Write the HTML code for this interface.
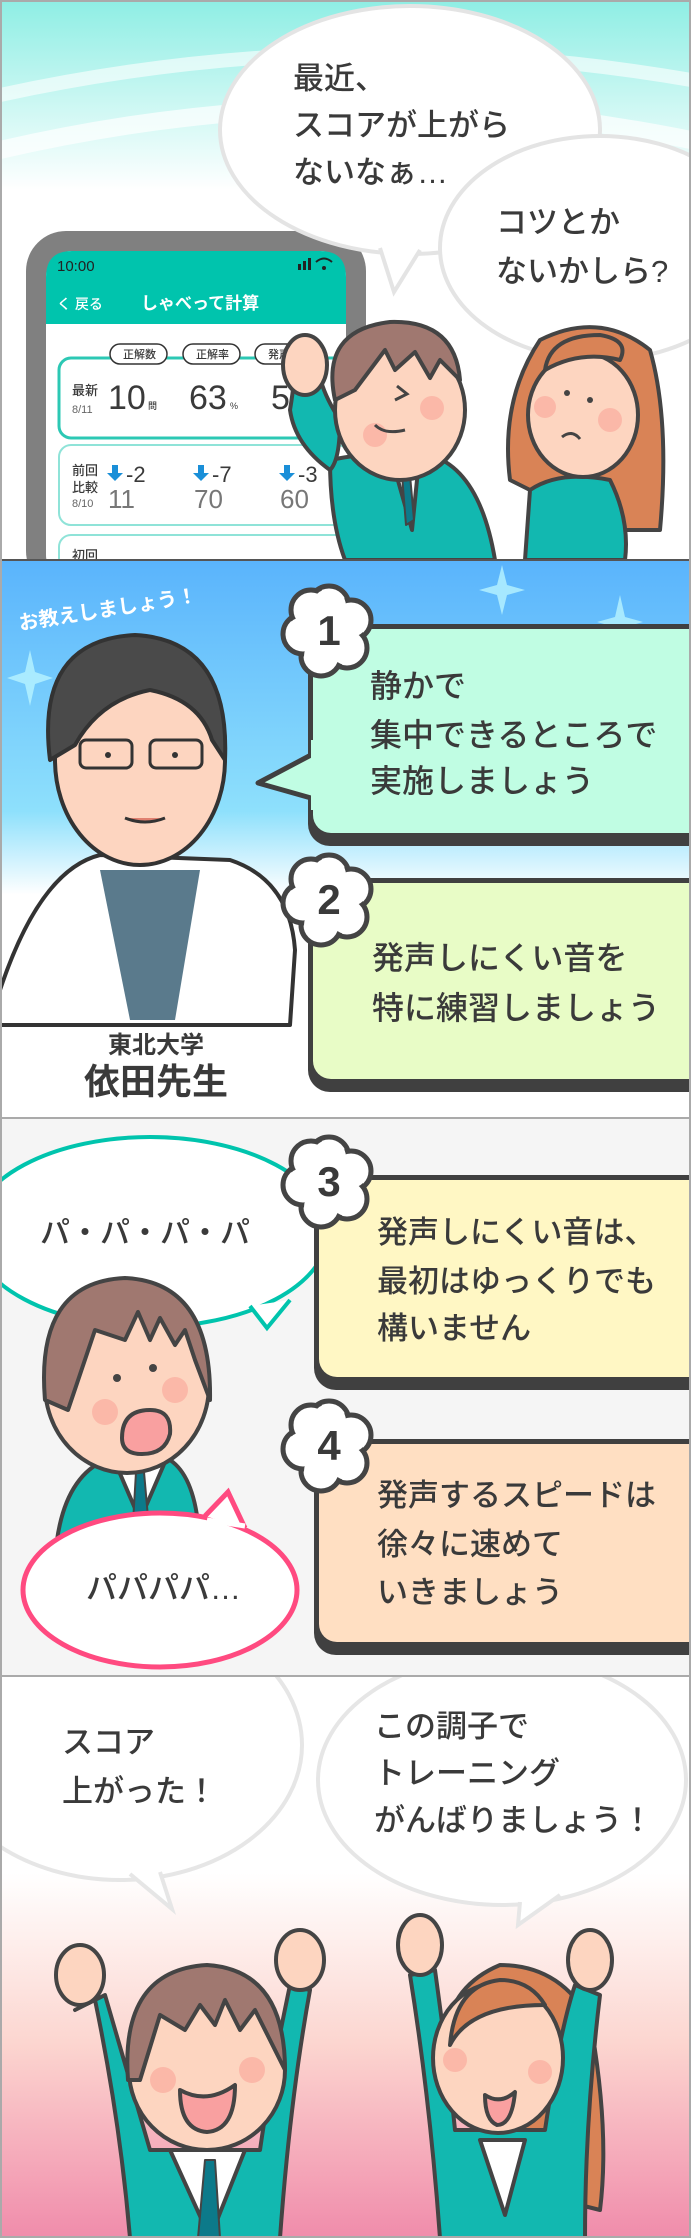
<!DOCTYPE html>
<html><head><meta charset="utf-8"><style>
html,body{margin:0;padding:0;background:#fff}
svg{display:block}
text{font-family:"Liberation Sans","Noto Sans CJK JP",sans-serif;fill:#3a3a3a;font-weight:500}
</style></head><body>
<svg width="691" height="2238" viewBox="0 0 691 2238" xmlns="http://www.w3.org/2000/svg">
<defs>
<linearGradient id="g1" x1="0" y1="0" x2="0" y2="1"><stop offset="0" stop-color="#8eeee4"/><stop offset="1" stop-color="#ffffff"/></linearGradient>
<linearGradient id="g2" x1="0" y1="0" x2="0" y2="1"><stop offset="0" stop-color="#5ab4fc"/><stop offset="0.45" stop-color="#8ee0fc"/><stop offset="0.6" stop-color="#ffffff"/><stop offset="1" stop-color="#ffffff"/></linearGradient>
<linearGradient id="g4" x1="0" y1="0" x2="0" y2="1"><stop offset="0" stop-color="#ffffff"/><stop offset="0.35" stop-color="#ffffff"/><stop offset="0.65" stop-color="#fcd6d0"/><stop offset="1" stop-color="#f08cab"/></linearGradient>
<clipPath id="c1"><rect x="0" y="0" width="691" height="560"/></clipPath>
<clipPath id="c3"><rect x="0" y="1119" width="691" height="556"/></clipPath>
<clipPath id="c4"><rect x="0" y="1677" width="691" height="561"/></clipPath>
<g id="badge">
<g fill="#fff" stroke="#444" stroke-width="5">
<circle cx="0" cy="-24" r="20"/><circle cx="22" cy="-10" r="20"/><circle cx="18" cy="18" r="20"/><circle cx="-8" cy="26" r="20"/><circle cx="-26" cy="4" r="20"/><circle cx="-18" cy="-20" r="20"/>
</g>
<g fill="#fff"><circle cx="0" cy="-24" r="17"/><circle cx="22" cy="-10" r="17"/><circle cx="18" cy="18" r="17"/><circle cx="-8" cy="26" r="17"/><circle cx="-26" cy="4" r="17"/><circle cx="-18" cy="-20" r="17"/><circle cx="0" cy="0" r="28"/></g>
</g>
</defs>

<!-- PANEL 1 -->
<g clip-path="url(#c1)">
<rect x="0" y="0" width="691" height="560" fill="#fff"/>
<rect x="0" y="0" width="691" height="190" fill="url(#g1)"/>
<path d="M0 95 Q345 20 691 80" stroke="#fff" stroke-width="14" fill="none" opacity="0.6"/>
<path d="M0 150 Q345 70 691 140" stroke="#fff" stroke-width="18" fill="none" opacity="0.7"/>
<rect x="26" y="231" width="340" height="360" rx="40" fill="#808080"/>
<rect x="46" y="251" width="300" height="330" rx="26" fill="#fff"/>
<path d="M46 324 V277 Q46 251 72 251 H320 Q346 251 346 277 V324 Z" fill="#00c4ad"/>
<text x="57" y="271" font-size="15" style="fill:#222">10:00</text>
<rect x="298" y="264" width="3" height="6" fill="#222"/><rect x="303" y="261" width="3" height="9" fill="#222"/><rect x="308" y="258" width="3" height="12" fill="#222"/>
<path d="M316 262 q8-7 16 0" stroke="#222" stroke-width="2" fill="none"/><circle cx="324" cy="268" r="2" fill="#222"/>
<text x="57" y="309" font-size="14" style="fill:#fff">く 戻る</text>
<text x="141" y="309" font-size="17" style="fill:#fff;font-weight:700">しゃべって計算</text>
<rect x="59" y="358" width="290" height="80" rx="12" fill="#fff" stroke="#2cc8b4" stroke-width="3"/>
<rect x="110" y="344" width="57" height="20" rx="10" fill="#fff" stroke="#333" stroke-width="1.5"/><text x="123" y="358" font-size="11">正解数</text>
<rect x="183" y="344" width="57" height="20" rx="10" fill="#fff" stroke="#333" stroke-width="1.5"/><text x="196" y="358" font-size="11">正解率</text>
<rect x="255" y="344" width="57" height="20" rx="10" fill="#fff" stroke="#333" stroke-width="1.5"/><text x="268" y="358" font-size="11">発声数</text>
<text x="72" y="395" font-size="13">最新</text><text x="72" y="413" font-size="11" style="fill:#666">8/11</text>
<text x="108" y="409" font-size="34">10</text><text x="148" y="409" font-size="9">問</text>
<text x="189" y="409" font-size="34">63</text><text x="230" y="409" font-size="9">%</text>
<text x="271" y="409" font-size="34">5</text>
<rect x="59" y="445" width="290" height="80" rx="12" fill="#fff" stroke="#8fe3d8" stroke-width="2"/>
<text x="72" y="475" font-size="13">前回</text><text x="72" y="492" font-size="13">比較</text><text x="72" y="507" font-size="11" style="fill:#666">8/10</text>
<g fill="#1a8fd8"><path d="M112 465h6v8h5l-8 8-8-8h5z"/><path d="M198 465h6v8h5l-8 8-8-8h5z"/><path d="M284 465h6v8h5l-8 8-8-8h5z"/></g>
<text x="126" y="482" font-size="22">-2</text><text x="212" y="482" font-size="22">-7</text><text x="298" y="482" font-size="22">-3</text>
<text x="108" y="508" font-size="26" style="fill:#777">11</text><text x="194" y="508" font-size="26" style="fill:#777">70</text><text x="280" y="508" font-size="26" style="fill:#777">60</text>
<rect x="59" y="535" width="290" height="60" rx="12" fill="#fff" stroke="#8fe3d8" stroke-width="2"/>
<text x="72" y="560" font-size="13">初回</text>
<ellipse cx="410" cy="130" rx="190" ry="124" fill="#fff" stroke="#e4e4e4" stroke-width="4"/>
<path d="M380 248 L394 292 L420 250" fill="#fff" stroke="#e4e4e4" stroke-width="4"/>
<ellipse cx="600" cy="248" rx="160" ry="112" fill="#fff" stroke="#e4e4e4" stroke-width="4"/>
<text x="293" y="89" font-size="31">最近、</text>
<text x="293" y="136" font-size="31">スコアが上がら</text>
<text x="293" y="183" font-size="31">ないなぁ…</text>
<text x="496" y="233" font-size="31">コツとか</text>
<text x="496" y="282" font-size="31">ないかしら?</text>
<g stroke="#444" stroke-width="4" stroke-linejoin="round">
<path d="M330 460 Q380 450 430 455 Q480 470 495 560 H345 Q330 520 330 460Z" fill="#12b8b0"/>
<path d="M395 470 L418 470 L412 530Z" fill="#fff"/>
<path d="M402 475 L410 475 L414 520 L406 525Z" fill="#0c7a8a" stroke-width="2"/>
<path d="M290 410 Q295 380 295 360 L318 365 Q320 390 340 420 Q340 460 330 470 Q295 445 290 410Z" fill="#12b8b0"/>
<ellipse cx="305" cy="365" rx="22" ry="30" fill="#fdd5c0"/>
<ellipse cx="400" cy="410" rx="65" ry="70" fill="#fdd5c0"/>
<path d="M335 400 Q320 330 390 322 Q455 320 460 380 L440 360 L430 378 L415 352 L395 370 L385 350 L355 390 Z" fill="#a07870"/>
</g>
<circle cx="375" cy="435" r="12" fill="#fbb8a8"/><circle cx="432" cy="408" r="12" fill="#fbb8a8"/>
<path d="M375 425 q10 10 30 5 M395 400 l12 -6 l-10 -8" stroke="#444" stroke-width="3" fill="none"/>
<g stroke="#444" stroke-width="4" stroke-linejoin="round">
<path d="M510 480 Q500 400 540 340 Q600 310 650 350 Q670 420 660 530 L610 530Z" fill="#d98356"/>
<path d="M530 490 Q560 470 610 480 Q630 520 625 560 H525Z" fill="#12b8b0"/>
<ellipse cx="583" cy="415" rx="55" ry="62" fill="#fdd5c0"/>
<path d="M545 370 Q580 350 620 360 Q630 340 600 335 Q550 335 545 370Z" fill="#d98356"/>
</g>
<circle cx="545" cy="407" r="11" fill="#fbb8a8"/><circle cx="610" cy="420" r="12" fill="#fbb8a8"/>
<circle cx="567" cy="393" r="3" fill="#444"/><circle cx="590" cy="400" r="3" fill="#444"/>
<path d="M562 437 q10 -8 18 2" stroke="#444" stroke-width="3" fill="none"/>
</g>
<line x1="0" y1="560" x2="691" y2="560" stroke="#555" stroke-width="2"/>

<!-- PANEL 2 -->
<rect x="0" y="561" width="691" height="556" fill="url(#g2)"/>
<g fill="#b8f4ff" opacity="0.8">
<path d="M502 565 l5 20 l18 5 l-18 5 l-5 20 l-5 -20 l-18 -5 l18 -5z"/>
<path d="M620 595 l5 22 l18 5 l-18 5 l-5 22 l-5 -22 l-18 -5 l18 -5z"/>
<path d="M30 650 l5 22 l18 6 l-18 6 l-5 22 l-5 -22 l-18 -6 l18 -6z"/>
</g>
<text x="20" y="630" font-size="20" transform="rotate(-9 20 630)" style="fill:#fff;font-weight:700">お教えしましょう！</text>
<g stroke="#333" stroke-width="4" stroke-linejoin="round">
<path d="M0 990 Q40 870 100 855 L230 860 Q290 880 295 950 L290 1025 H0Z" fill="#fff"/>
<path d="M100 870 L130 1020 H175 L200 870Z" fill="#5a7a8c" stroke-width="0"/>
<ellipse cx="140" cy="760" rx="85" ry="105" fill="#fdd5c0"/>
<path d="M50 760 Q35 640 135 635 Q230 640 225 760 L212 740 Q200 700 150 690 Q100 700 75 745Z" fill="#4a4a4a"/>
<rect x="80" y="740" width="52" height="28" rx="6" fill="none" stroke-width="3"/>
<rect x="150" y="740" width="52" height="28" rx="6" fill="none" stroke-width="3"/>
</g>
<circle cx="108" cy="755" r="3" fill="#333"/><circle cx="175" cy="755" r="3" fill="#333"/>
<path d="M125 818 q20 8 40 0" stroke="#333" stroke-width="3" fill="#e08070"/>
<text x="156" y="1053" font-size="24" text-anchor="middle" style="font-weight:700">東北大学</text>
<text x="156" y="1094" font-size="36" text-anchor="middle" style="font-weight:700">依田先生</text>
<rect x="308" y="624" width="420" height="222" rx="22" fill="#404040"/>
<rect x="313" y="629" width="420" height="204" rx="18" fill="#c0fde3"/>
<path d="M313 755 L260 783 L313 797Z" fill="#c0fde3"/>
<path d="M311 755 L258 783 L311 798" fill="none" stroke="#404040" stroke-width="5" stroke-linejoin="round"/>
<path d="M313 740 v70" stroke="#c0fde3" stroke-width="4"/>
<use href="#badge" x="329" y="630"/>
<text x="329" y="645" font-size="42" text-anchor="middle" style="font-weight:700">1</text>
<text x="370" y="697" font-size="32">静かで</text>
<text x="370" y="746" font-size="32">集中できるところで</text>
<text x="370" y="792" font-size="32">実施しましょう</text>
<rect x="308" y="878" width="420" height="214" rx="22" fill="#404040"/>
<rect x="313" y="883" width="420" height="196" rx="18" fill="#e8fcc6"/>
<use href="#badge" x="329" y="899"/>
<text x="329" y="914" font-size="42" text-anchor="middle" style="font-weight:700">2</text>
<text x="372" y="969" font-size="32">発声しにくい音を</text>
<text x="372" y="1019" font-size="32">特に練習しましょう</text>
<line x1="0" y1="1118" x2="691" y2="1118" stroke="#aaa" stroke-width="2"/>

<!-- PANEL 3 -->
<g clip-path="url(#c3)">
<rect x="0" y="1119" width="691" height="556" fill="#f5f5f5"/>
<ellipse cx="150" cy="1232" rx="178" ry="95" fill="#fff" stroke="#00c4ad" stroke-width="4"/>
<path d="M250 1306 L267 1328 L290 1300" fill="#fff" stroke="#00c4ad" stroke-width="4"/>
<text x="40" y="1243" font-size="30">パ・パ・パ・パ</text>
<g stroke="#444" stroke-width="4" stroke-linejoin="round">
<path d="M55 1560 Q60 1480 105 1460 H170 Q200 1480 200 1560Z" fill="#12b8b0"/>
<path d="M115 1462 L165 1462 L140 1520Z" fill="#fff"/>
<path d="M136 1472 L144 1472 L150 1540 H132Z" fill="#0c7a8a" stroke-width="2"/>
<ellipse cx="127" cy="1385" rx="82" ry="88" fill="#fdd5c0"/>
<path d="M45 1400 Q35 1282 125 1278 Q212 1282 210 1400 L195 1360 L185 1330 L175 1345 L160 1318 L150 1340 L138 1312 L125 1340 L95 1330 L68 1410Z" fill="#a07870"/>
<path d="M122 1438 q0 -28 28 -28 q22 0 20 24 q-5 20 -28 20 q-20 0 -20 -16z" fill="#f9a0a0"/>
</g>
<circle cx="105" cy="1412" r="13" fill="#fbb8a8"/><circle cx="175" cy="1390" r="13" fill="#fbb8a8"/>
<circle cx="117" cy="1378" r="4" fill="#444"/><circle cx="153" cy="1368" r="4" fill="#444"/>
<ellipse cx="160" cy="1590" rx="137" ry="77" fill="#fff" stroke="#ff4a80" stroke-width="5"/>
<path d="M205 1516 L228 1492 L245 1528" fill="#fff" stroke="#ff4a80" stroke-width="5"/>
<path d="M207 1520 L245 1526" stroke="#fff" stroke-width="5"/>
<text x="86" y="1599" font-size="31">パパパパ…</text>
<rect x="314" y="1175" width="420" height="215" rx="22" fill="#404040"/>
<rect x="319" y="1180" width="420" height="197" rx="18" fill="#fff7c4"/>
<use href="#badge" x="329" y="1181"/>
<text x="329" y="1196" font-size="42" text-anchor="middle" style="font-weight:700">3</text>
<text x="377" y="1243" font-size="31">発声しにくい音は、</text>
<text x="377" y="1292" font-size="31">最初はゆっくりでも</text>
<text x="377" y="1339" font-size="31">構いません</text>
<rect x="314" y="1439" width="420" height="216" rx="22" fill="#404040"/>
<rect x="319" y="1444" width="420" height="198" rx="18" fill="#ffdfc2"/>
<use href="#badge" x="329" y="1445"/>
<text x="329" y="1460" font-size="42" text-anchor="middle" style="font-weight:700">4</text>
<text x="377" y="1506" font-size="31">発声するスピードは</text>
<text x="377" y="1555" font-size="31">徐々に速めて</text>
<text x="377" y="1603" font-size="31">いきましょう</text>
</g>
<line x1="0" y1="1676" x2="691" y2="1676" stroke="#aaa" stroke-width="2"/>

<!-- PANEL 4 -->
<g clip-path="url(#c4)">
<rect x="0" y="1677" width="691" height="561" fill="url(#g4)"/>
<ellipse cx="120" cy="1745" rx="182" ry="135" fill="#fff" stroke="#e6e6e6" stroke-width="4"/>
<path d="M130 1874 L172 1909 L160 1872" fill="#fff" stroke="#e6e6e6" stroke-width="4"/>
<ellipse cx="502" cy="1780" rx="184" ry="125" fill="#fff" stroke="#e6e6e6" stroke-width="4"/>
<path d="M520 1902 L518 1925 L560 1895" fill="#fff" stroke="#e6e6e6" stroke-width="4"/>
<text x="62" y="1753" font-size="31">スコア</text>
<text x="62" y="1802" font-size="31">上がった！</text>
<text x="374" y="1737" font-size="31">この調子で</text>
<text x="374" y="1784" font-size="31">トレーニング</text>
<text x="374" y="1831" font-size="31">がんばりましょう！</text>
<g stroke="#444" stroke-width="4" stroke-linejoin="round">
<path d="M75 2010 L95 2000 Q120 2120 130 2238 H280 Q290 2100 310 1990 L290 1985 Q270 2080 260 2150 L150 2150 Q130 2080 105 1995Z" fill="#12b8b0"/>
<ellipse cx="80" cy="1975" rx="24" ry="30" fill="#fdd5c0"/>
<ellipse cx="300" cy="1960" rx="24" ry="30" fill="#fdd5c0"/>
<path d="M170 2150 L245 2150 L210 2238Z" fill="#fff"/>
<path d="M205 2160 L215 2160 L220 2238 H198Z" fill="#0c7a8a" stroke-width="2"/>
<ellipse cx="207" cy="2070" rx="78" ry="80" fill="#fdd5c0"/>
<path d="M128 2080 Q120 1970 207 1965 Q285 1970 285 2070 L270 2040 L255 2010 L240 2030 L225 2000 L215 2025 L200 2005 L185 2030 L160 2015 L140 2080Z" fill="#a07870"/>
<path d="M180 2090 Q207 2105 235 2085 Q235 2130 207 2132 Q180 2130 180 2090Z" fill="#f9a0a0"/>
</g>
<circle cx="163" cy="2080" r="13" fill="#fbb8a8"/><circle cx="252" cy="2070" r="13" fill="#fbb8a8"/>
<g stroke="#444" stroke-width="4" stroke-linejoin="round">
<path d="M445 2060 Q440 1990 500 1965 Q560 1965 590 2020 Q610 2130 600 2210 L560 2200Z" fill="#d98356"/>
<path d="M410 1975 L435 1970 Q450 2080 455 2130 L545 2130 Q560 2030 575 1985 L600 1995 Q585 2120 585 2238 H440 Q430 2100 410 1975Z" fill="#12b8b0"/>
<ellipse cx="420" cy="1945" rx="22" ry="30" fill="#fdd5c0"/>
<ellipse cx="590" cy="1960" rx="22" ry="30" fill="#fdd5c0"/>
<path d="M480 2140 L525 2140 L505 2215Z" fill="#fff"/>
<ellipse cx="498" cy="2058" rx="65" ry="75" fill="#fdd5c0"/>
<path d="M450 2045 Q470 2005 545 2005 Q530 1980 500 1980 Q455 1985 450 2045Z" fill="#d98356"/>
<path d="M485 2095 Q500 2105 515 2092 Q512 2125 497 2125 Q485 2120 485 2095Z" fill="#f9a0a0"/>
</g>
<circle cx="455" cy="2060" r="12" fill="#fbb8a8"/><circle cx="540" cy="2072" r="12" fill="#fbb8a8"/>
</g>
<rect x="1" y="1" width="689" height="2236" fill="none" stroke="#aaa" stroke-width="2"/>
</svg>
</body></html>
